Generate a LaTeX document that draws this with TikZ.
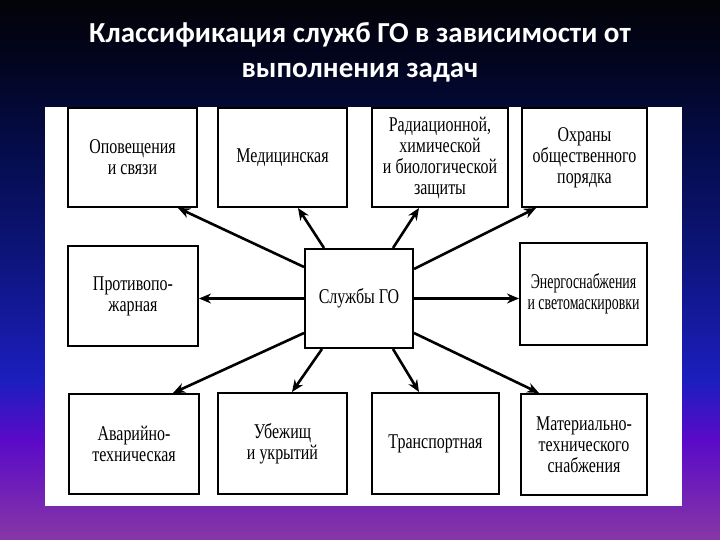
\documentclass[tikz,border=0pt]{standalone}
\usepackage{fontspec}
\usetikzlibrary{arrows.meta,calc}
\newfontfamily\boxfont{Liberation Serif}[FakeStretch=0.76]
\newfontfamily\narrowfont{Liberation Serif}[FakeStretch=0.66]
\newfontfamily\titlefont{Carlito}
\definecolor{s0}{RGB}{3,3,8}
\definecolor{s1}{RGB}{2,5,30}
\definecolor{s2}{RGB}{5,12,75}
\definecolor{s3}{RGB}{12,20,120}
\definecolor{s4}{RGB}{28,30,190}
\definecolor{s5}{RGB}{90,10,200}
\definecolor{s6}{RGB}{135,55,165}
\pgfdeclareverticalshading{bgsh}{100bp}{color(0bp)=(s6); color(25bp)=(s6); color(34.25bp)=(s5); color(39.8bp)=(s4); color(51.85bp)=(s3); color(61.1bp)=(s2); color(69.45bp)=(s1); color(75bp)=(s0); color(100bp)=(s0)}
\tikzset{
  svc/.style={draw=black, line width=2bp, fill=white, align=center, inner sep=2bp,
    font=\boxfont\fontsize{21bp}{21bp}\selectfont},
  arr/.style={line width=2.6bp, -{Stealth[length=12bp,width=10bp]}},
}
\begin{document}
\begin{tikzpicture}[x=1bp,y=-1bp]
\useasboundingbox (0,0) rectangle (720,540);
\shade[shading=bgsh] (0,0) rectangle (720,540);
\node[text=white, align=center, font=\titlefont\bfseries\fontsize{29bp}{35bp}\selectfont] (title) at (360,52)
  {Классификация служб ГО в зависимости от\\выполнения задач};
\fill[white] (45,107) rectangle (682,506);
% boxes
\node[svc, minimum width=129bp, minimum height=99bp] (b1) at (132.5,157.5) {Оповещения\\и связи};
\node[svc, minimum width=129bp, minimum height=99bp] (b2) at (282.5,157.5) {Медицинская};
\node[svc, minimum width=136bp, minimum height=99bp] (b3) at (440,157.5) {Радиационной,\\химической\\и биологической\\защиты};
\node[svc, minimum width=125bp, minimum height=99bp] (b4) at (584.5,157.5) {Охраны\\общественного\\порядка};
\node[svc, minimum width=130bp, minimum height=100bp] (b5) at (133,296) {Противопо-\\жарная};
\node[svc, minimum width=108bp, minimum height=99bp] (c) at (359,298.5) {Службы ГО};
\node[svc, minimum width=127bp, minimum height=102bp, font=\narrowfont\fontsize{21bp}{21bp}\selectfont] (b7) at (583.5,294) {Энергоснабжения\\и светомаскировки};
\node[svc, minimum width=130bp, minimum height=100bp] (b8) at (134,444) {Аварийно-\\техническая};
\node[svc, minimum width=129bp, minimum height=101bp] (b9) at (282.5,443.5) {Убежищ\\и укрытий};
\node[svc, minimum width=127bp, minimum height=101bp] (b10) at (435.5,443.5) {Транспортная};
\node[svc, minimum width=126bp, minimum height=101bp] (b11) at (584,444.5) {Материально-\\технического\\снабжения};
% arrows
\draw[arr] ($(c.north west)+(0,19)$) -- ($(b1.south east)+(-20,0)$);
\draw[arr] ($(c.north west)+(20,0)$) -- ($(b2.south east)+(-50,0)$);
\draw[arr] ($(c.north east)+(-21,0)$) -- ($(b3.south west)+(48,0)$);
\draw[arr] ($(c.north east)+(0,21)$) -- ($(b4.south west)+(15,0)$);
\draw[arr] (c.west) -- (c.west -| b5.east);
\draw[arr] (c.east) -- (c.east -| b7.west);
\draw[arr] ($(c.south west)+(0,-16)$) -- ($(b8.north east)+(-27,0)$);
\draw[arr] ($(c.south west)+(18,0)$) -- ($(b9.north west)+(75,0)$);
\draw[arr] ($(c.south east)+(-21,0)$) -- ($(b10.north west)+(48,0)$);
\draw[arr] ($(c.south east)+(0,-16)$) -- ($(b11.north west)+(19,0)$);
\end{tikzpicture}
\end{document}
